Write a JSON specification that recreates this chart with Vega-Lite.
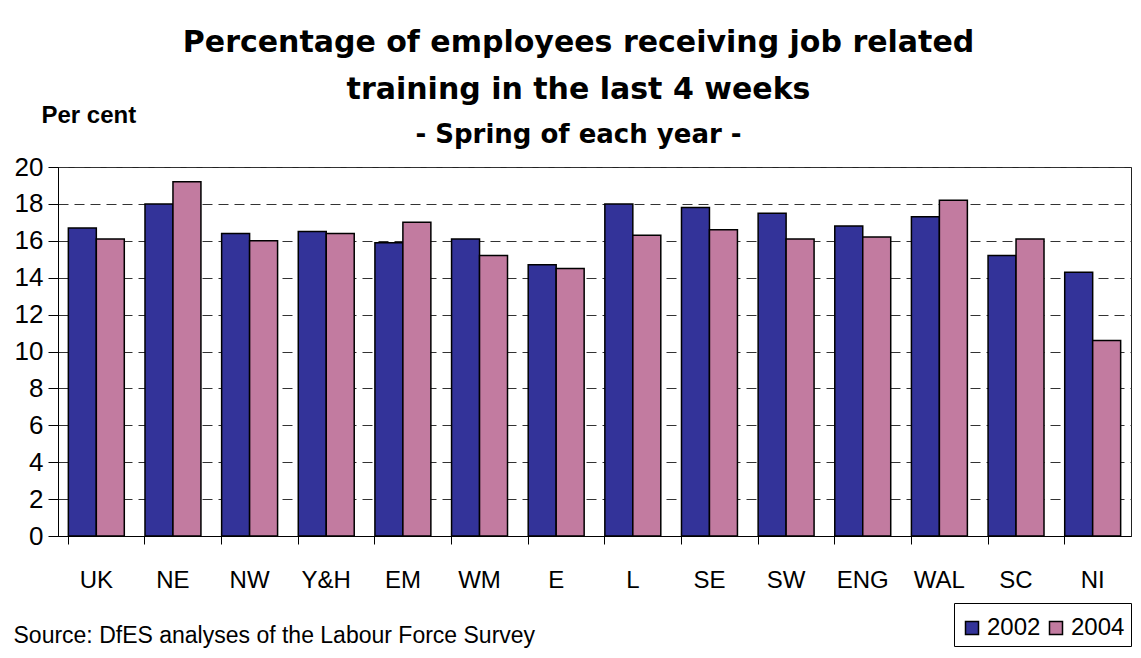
{
  "$schema": "https://vega.github.io/schema/vega-lite/v6.json",
  "width": 1073,
  "height": 369,
  "autosize": {"type": "none"},
  "padding": {"left": 58, "top": 167, "right": 10, "bottom": 122},
  "background": "white",
  "title": {
    "text": ["Percentage of employees receiving job related", "training in the last 4 weeks"],
    "subtitle": "- Spring of each year -",
    "anchor": "middle",
    "frame": "group",
    "dx": -16,
    "font": "DejaVu Sans",
    "fontSize": 30,
    "fontWeight": "bold",
    "color": "#000",
    "lineHeight": 47,
    "subtitleFont": "DejaVu Sans",
    "subtitleFontSize": 26,
    "subtitleFontWeight": "bold",
    "subtitleColor": "#000",
    "subtitlePadding": 17,
    "offset": -45
  },
  "data": {
    "values": [
      {"region": "UK", "year": "2002", "value": 16.7},
      {"region": "UK", "year": "2004", "value": 16.1},
      {"region": "NE", "year": "2002", "value": 18.0},
      {"region": "NE", "year": "2004", "value": 19.2},
      {"region": "NW", "year": "2002", "value": 16.4},
      {"region": "NW", "year": "2004", "value": 16.0},
      {"region": "Y&H", "year": "2002", "value": 16.5},
      {"region": "Y&H", "year": "2004", "value": 16.4},
      {"region": "EM", "year": "2002", "value": 15.9},
      {"region": "EM", "year": "2004", "value": 17.0},
      {"region": "WM", "year": "2002", "value": 16.1},
      {"region": "WM", "year": "2004", "value": 15.2},
      {"region": "E", "year": "2002", "value": 14.7},
      {"region": "E", "year": "2004", "value": 14.5},
      {"region": "L", "year": "2002", "value": 18.0},
      {"region": "L", "year": "2004", "value": 16.3},
      {"region": "SE", "year": "2002", "value": 17.8},
      {"region": "SE", "year": "2004", "value": 16.6},
      {"region": "SW", "year": "2002", "value": 17.5},
      {"region": "SW", "year": "2004", "value": 16.1},
      {"region": "ENG", "year": "2002", "value": 16.8},
      {"region": "ENG", "year": "2004", "value": 16.2},
      {"region": "WAL", "year": "2002", "value": 17.3},
      {"region": "WAL", "year": "2004", "value": 18.2},
      {"region": "SC", "year": "2002", "value": 15.2},
      {"region": "SC", "year": "2004", "value": 16.1},
      {"region": "NI", "year": "2002", "value": 14.3},
      {"region": "NI", "year": "2004", "value": 10.6}
    ]
  },
  "mark": {"type": "bar", "stroke": "#000", "strokeWidth": 1.5},
  "encoding": {
    "x": {
      "field": "region",
      "type": "nominal",
      "sort": null,
      "scale": {"paddingInner": 0.27, "paddingOuter": 0.135},
      "axis": {
        "title": "Source: DfES analyses of the Labour Force Survey",
        "titleX": -45,
        "titleY": 106,
        "titleAlign": "left",
        "titleAnchor": null,
        "titleBaseline": "alphabetic",
        "titleFont": "Liberation Sans",
        "titleFontSize": 23,
        "titleFontWeight": "normal",
        "titleColor": "#000",
        "labelAngle": 0,
        "labelFont": "Liberation Sans",
        "labelFontSize": 24,
        "labelColor": "#000",
        "labelPadding": 24,
        "tickSize": 8,
        "tickColor": "#000",
        "domainColor": "#000",
        "bandPosition": 0,
        "grid": false
      }
    },
    "xOffset": {"field": "year", "type": "nominal", "scale": {"paddingInner": 0}},
    "y": {
      "field": "value",
      "type": "quantitative",
      "scale": {"domain": [0, 20], "nice": false},
      "axis": {
        "values": [0, 2, 4, 6, 8, 10, 12, 14, 16, 18, 20],
        "grid": true,
        "gridDash": [10, 6],
        "gridColor": "#333",
        "gridWidth": 1,
        "domainColor": "#000",
        "tickColor": "#000",
        "tickSize": 10,
        "labelFont": "Liberation Sans",
        "labelFontSize": 26,
        "labelColor": "#000",
        "labelPadding": 5,
        "title": "Per cent",
        "titleAngle": 0,
        "titleX": -17,
        "titleY": -45,
        "titleAlign": "left",
        "titleAnchor": null,
        "titleBaseline": "alphabetic",
        "titleFont": "Liberation Sans",
        "titleFontSize": 24,
        "titleFontWeight": "bold",
        "titleColor": "#000"
      }
    },
    "color": {
      "field": "year",
      "type": "nominal",
      "scale": {"domain": ["2002", "2004"], "range": ["#333399", "#C27BA0"]},
      "legend": {
        "orient": "none",
        "legendX": 896,
        "legendY": 436,
        "direction": "horizontal",
        "title": " ",
        "titleOrient": "top",
        "titleFontSize": 7,
        "titlePadding": 0,
        "strokeColor": "#000",
        "fillColor": "white",
        "padding": 6,
        "symbolType": "square",
        "symbolSize": 169,
        "symbolStrokeColor": "#000",
        "symbolStrokeWidth": 1.5,
        "symbolOpacity": 1,
        "labelFont": "Liberation Sans",
        "labelFontSize": 24,
        "labelColor": "#000",
        "labelOffset": 3,
        "columnPadding": 3
      }
    }
  },
  "config": {"view": {"stroke": "#222", "strokeWidth": 1}}
}
